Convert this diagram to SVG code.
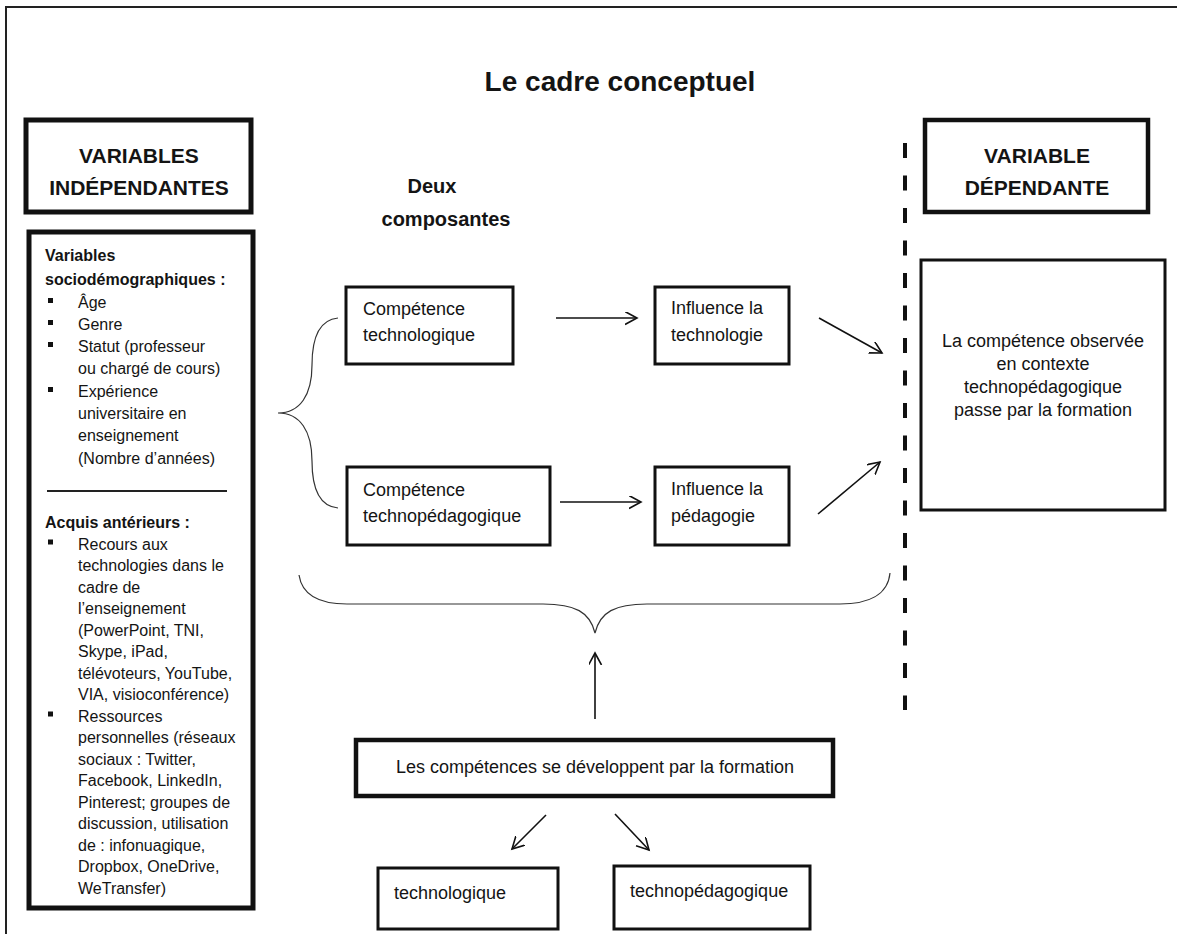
<svg xmlns="http://www.w3.org/2000/svg" width="1177" height="934" viewBox="0 0 1177 934">
<style>
text{font-family:"Liberation Sans",Arial,sans-serif;fill:#141414}
.t{font-size:16px}
.b{font-weight:bold}
.m{font-size:18px}
.h{font-size:21px;font-weight:bold;text-anchor:middle}
.c{text-anchor:middle}
.box{fill:#fff;stroke:#111}
.w3{stroke-width:3}
.w5{stroke-width:5}
.ln{stroke:#111;stroke-width:1.6;fill:none}
.br{stroke:#333;stroke-width:1.2;fill:none}
</style>
<defs>
<marker id="ah" markerUnits="userSpaceOnUse" markerWidth="16" markerHeight="16" refX="12" refY="6.5" orient="auto">
<path d="M0,0 L12,6.5 L0,13" fill="none" stroke="#111" stroke-width="1.6"/>
</marker>
</defs>
<rect width="1177" height="934" fill="#fff"/>
<rect x="6" y="7" width="1200" height="1000" fill="none" stroke="#222" stroke-width="2"/>
<text x="620" y="91" class="b c" style="font-size:28px">Le cadre conceptuel</text>

<g id="header-left">
<rect class="box w5" x="26" y="120" width="225" height="92"/>
<text class="h" x="139" y="163">VARIABLES</text>
<text class="h" x="139" y="195">INDÉPENDANTES</text>
</g>

<g id="variables-box">
<rect class="box w5" x="29" y="232" width="224" height="676"/>
<g class="t">
<text class="b" x="45" y="261">Variables</text>
<text class="b" x="45" y="285">sociodémographiques :</text>
<text x="78" y="308">Âge</text>
<text x="78" y="330">Genre</text>
<text x="78" y="352">Statut (professeur</text>
<text x="78" y="374">ou chargé de cours)</text>
<text x="78" y="397">Expérience</text>
<text x="78" y="419">universitaire en</text>
<text x="78" y="441">enseignement</text>
<text x="78" y="464">(Nombre d’années)</text>
<text class="b" x="45" y="528">Acquis antérieurs :</text>
<text x="78" y="549.5">Recours aux</text>
<text x="78" y="571">technologies dans le</text>
<text x="78" y="592.5">cadre de</text>
<text x="78" y="614">l’enseignement</text>
<text x="78" y="635.5">(PowerPoint, TNI,</text>
<text x="78" y="657">Skype, iPad,</text>
<text x="78" y="678.5">télévoteurs, YouTube,</text>
<text x="78" y="700">VIA, visioconférence)</text>
<text x="78" y="721.5">Ressources</text>
<text x="78" y="743">personnelles (réseaux</text>
<text x="78" y="764.5">sociaux : Twitter,</text>
<text x="78" y="786">Facebook, LinkedIn,</text>
<text x="78" y="807.5">Pinterest; groupes de</text>
<text x="78" y="829">discussion, utilisation</text>
<text x="78" y="850.5">de : infonuagique,</text>
<text x="78" y="872">Dropbox, OneDrive,</text>
<text x="78" y="893.5">WeTransfer)</text>
</g>
<g fill="#111">
<rect x="48" y="298" width="5" height="5"/>
<rect x="48" y="320" width="5" height="5"/>
<rect x="48" y="342" width="5" height="5"/>
<rect x="48" y="387" width="5" height="5"/>
<rect x="48" y="539.5" width="5" height="5"/>
<rect x="48" y="711.5" width="5" height="5"/>
</g>
<line x1="47" y1="491" x2="227" y2="491" stroke="#222" stroke-width="2"/>
</g>

<g id="deux-composantes">
<text class="b c" style="font-size:20px" x="432" y="193">Deux</text>
<text class="b c" style="font-size:20px" x="446" y="226">composantes</text>
</g>

<g id="competence-techno">
<rect class="box w3" x="346" y="287" width="167" height="77"/>
<text class="m" x="363" y="315">Compétence</text>
<text class="m" x="363" y="341">technologique</text>
</g>
<g id="influence-techno">
<rect class="box w3" x="655" y="287" width="134" height="77"/>
<text class="m" x="671" y="314">Influence la</text>
<text class="m" x="671" y="341">technologie</text>
</g>
<g id="competence-technoped">
<rect class="box w3" x="347" y="467" width="203" height="78"/>
<text class="m" x="363" y="496">Compétence</text>
<text class="m" x="363" y="522">technopédagogique</text>
</g>
<g id="influence-ped">
<rect class="box w3" x="655" y="467" width="134" height="78"/>
<text class="m" x="671" y="495">Influence la</text>
<text class="m" x="671" y="522">pédagogie</text>
</g>

<g id="header-right">
<rect class="box" stroke-width="4.5" x="925" y="120" width="223" height="92"/>
<text class="h" x="1037" y="163">VARIABLE</text>
<text class="h" x="1037" y="195">DÉPENDANTE</text>
</g>
<g id="competence-observee">
<rect class="box w3" x="921" y="260" width="244" height="250"/>
<text class="m c" x="1043" y="347">La compétence observée</text>
<text class="m c" x="1043" y="370">en contexte</text>
<text class="m c" x="1043" y="393">technopédagogique</text>
<text class="m c" x="1043" y="416">passe par la formation</text>
</g>

<g id="formation">
<rect class="box" stroke-width="4.5" x="356" y="740" width="477" height="56"/>
<text class="m c" x="595" y="773">Les compétences se développent par la formation</text>
</g>
<g id="technologique">
<rect class="box w3" x="378" y="868" width="180" height="61"/>
<text class="m" x="394" y="899">technologique</text>
</g>
<g id="technopedagogique">
<rect class="box w3" x="614" y="866" width="196" height="63"/>
<text class="m" x="630" y="897">technopédagogique</text>
</g>

<g id="connectors">
<line x1="905" y1="143" x2="905" y2="710" stroke="#111" stroke-width="4" stroke-dasharray="15,17.5"/>
<path class="br" d="M338,318 C316,320 312,345 312,365 C312,395 300,413 278,413 C300,413 312,431 312,461 C312,481 316,506 338,508"/>
<path class="br" d="M299,575 C302,595 320,604 347,604 L543,604 C575,604 590,612 595,633 C600,612 615,604 647,604 L840,604 C868,604 888,595 890,573"/>
<line class="ln" x1="556" y1="318" x2="637" y2="318" marker-end="url(#ah)"/>
<line class="ln" x1="560" y1="502" x2="641" y2="502" marker-end="url(#ah)"/>
<line class="ln" x1="819" y1="318" x2="882" y2="353" marker-end="url(#ah)"/>
<line class="ln" x1="818" y1="514" x2="880" y2="462" marker-end="url(#ah)"/>
<line class="ln" x1="595" y1="719" x2="595" y2="653" marker-end="url(#ah)"/>
<line class="ln" x1="546" y1="815" x2="512" y2="849" marker-end="url(#ah)"/>
<line class="ln" x1="615" y1="814" x2="649" y2="850" marker-end="url(#ah)"/>
</g>
</svg>
